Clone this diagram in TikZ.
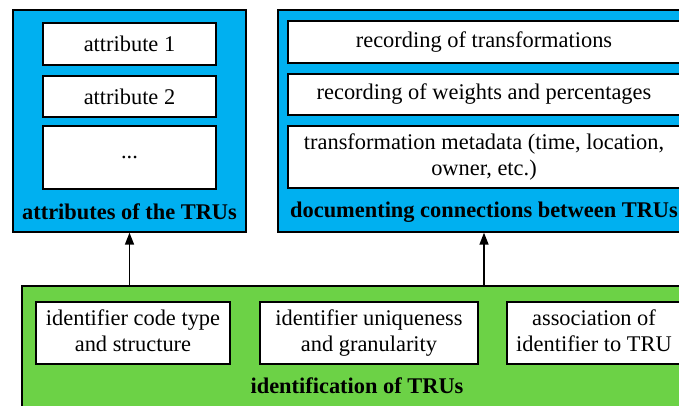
\documentclass[tikz,border=0pt]{standalone}
\usepackage{fontspec}
\setmainfont{Liberation Serif}
\usetikzlibrary{arrows.meta}
\definecolor{panelblue}{RGB}{0,176,240}
\definecolor{panelgreen}{RGB}{108,210,70}
\tikzset{
  panel/.style={draw=black, line width=1.4pt, rectangle, inner sep=0pt},
  itembox/.style={draw=black, fill=white, line width=1.4pt, rectangle, inner sep=0pt, align=center,
    font=\fontsize{22.4}{26}\selectfont},
  paneltitle/.style={inner sep=0pt, font=\fontsize{22.4}{26}\selectfont\bfseries},
  uparrow/.style={draw=black, line width=1.6pt, -{Triangle[width=9pt,length=12pt]}}
}
\begin{document}
\begin{tikzpicture}[x=1pt,y=-1pt]
\useasboundingbox (0,0) rectangle (679,405);
\clip (0,0) rectangle (679,405);
% left blue panel
\node[panel, fill=panelblue, minimum width=233pt, minimum height=222pt] (lb) at (129.5,121) {};
\node[itembox, minimum width=173pt, minimum height=42pt] (a1) at (129.5,44) {attribute 1};
\node[itembox, minimum width=173pt, minimum height=41pt] (a2) at (129.5,96.5) {attribute 2};
\node[itembox, minimum width=173pt, minimum height=63pt] (a3) at (129.5,157.5) {...};
\node[paneltitle] (lbt) at (129.5,212) {attributes of the TRUs};
% right blue panel
\node[panel, fill=panelblue, minimum width=412pt, minimum height=222pt] (rb) at (484,121) {};
\node[itembox, minimum width=392pt, minimum height=42pt] (r1) at (484,42) {recording of transformations};
\node[itembox, minimum width=392pt, minimum height=41pt] (r2) at (484,94.5) {recording of weights and percentages};
\node[itembox, minimum width=392pt, minimum height=62pt] (r3) at (484,157) {\strut transformation metadata (time, location,\\\strut owner, etc.)};
\node[paneltitle] (rbt) at (484,212) {documenting connections between TRUs};
% green panel
\node[panel, fill=panelgreen, minimum width=670pt, minimum height=134pt] (gr) at (357,353) {};
\node[itembox, minimum width=194pt, minimum height=62pt] (g1) at (133,333) {\strut identifier code type\\\strut and structure};
\node[itembox, minimum width=218pt, minimum height=62pt] (g2) at (369,333) {\strut identifier uniqueness\\\strut and granularity};
\node[itembox, minimum width=174pt, minimum height=62pt] (g3) at (594,333) {\strut association of\\\strut identifier to TRU};
\node[paneltitle] (grt) at (357,386) {identification of TRUs};
% arrows
\draw[uparrow] (lb.south |- gr.north) -- (lb.south);
\draw[uparrow] (rb.south |- gr.north) -- (rb.south);
\end{tikzpicture}
\end{document}
